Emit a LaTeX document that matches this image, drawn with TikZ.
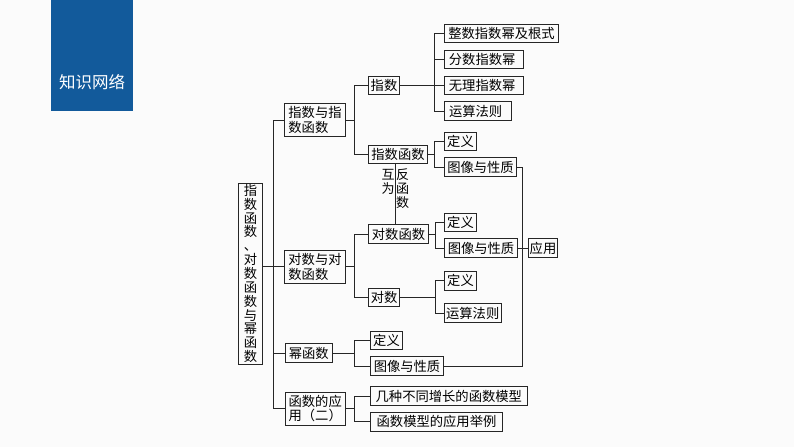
\documentclass[tikz,border=0pt]{standalone}
\usepackage{fontspec}
\setmainfont{Noto Sans CJK SC}
\tikzset{
  box/.style={draw=black!85, rectangle, inner sep=0pt, align=center, minimum height=18.5pt, line width=.9pt, font=\fontsize{13.3}{14.8}\selectfont},
  note/.style={inner sep=0pt, align=center, font=\fontsize{13}{14}\selectfont},
  wire/.style={draw=black!85, line width=.9pt},
}
\begin{document}
\begin{tikzpicture}[x=1pt, y=-1pt]
\useasboundingbox (0,0) rectangle (794,447);
\fill[black!1.5] (0,0) rectangle (794,447);
\node[rectangle, fill={rgb,255:red,18;green,90;blue,155}, minimum width=81.5pt, minimum height=111pt, inner sep=0pt] (kid30) at (92.2,55.5){};
\node[text=white, inner sep=0pt, font=\fontsize{16.5}{18}\selectfont] (kid31) at (92,82){知识网络};
\node[box, minimum width=24pt, minimum height=181pt, font=\fontsize{13.3}{13.85}\selectfont] (kid0) at (250.5,273.5){指\\数\\函\\数\\、\\对\\数\\函\\数\\与\\幂\\函\\数};
\node[box, minimum width=61pt, minimum height=33pt] (kid1) at (315,120){指数与指\\数函数\hspace*{13.3pt}};
\node[box, minimum width=31pt] (kid2) at (384,85.5){指数};
\node[box, minimum width=114.4pt] (kid3) at (501.5,33.3){整数指数幂及根式};
\node[box, minimum width=79pt] (kid4) at (483.8,59.5){分数指数幂\hspace*{3.3pt}};
\node[box, minimum width=79pt] (kid5) at (483.8,85.5){无理指数幂\hspace*{3.3pt}};
\node[box, minimum width=67pt] (kid6) at (477.8,111){运算法则\hspace*{4.4pt}};
\node[box, minimum width=59pt] (kid7) at (398,154.5){指数函数};
\node[box, minimum width=32.4pt] (kid8) at (460.5,141.3){定义};
\node[box, minimum width=72.4pt] (kid9) at (480.5,167){图像与性质};
\node[box, minimum width=61pt, minimum height=33pt] (kid10) at (315,266.7){对数与对\\数函数\hspace*{13.3pt}};
\node[box, minimum width=59.6pt] (kid11) at (398.5,234){对数函数};
\node[box, minimum width=32.4pt] (kid12) at (460.5,222.3){定义};
\node[box, minimum width=73.4pt] (kid13) at (481,248){图像与性质};
\node[box, minimum width=31pt] (kid14) at (384.2,297.2){对数};
\node[box, minimum width=32.4pt] (kid15) at (460.5,280.7){定义};
\node[box, minimum width=56.7pt, minimum height=19.5pt] (kid16) at (472.7,313){运算法则};
\node[box, minimum width=29.4pt] (kid17) at (543,248){应用};
\node[box, minimum width=46.5pt] (kid18) at (308.7,353){幂函数};
\node[box, minimum width=32.4pt] (kid19) at (386.5,340.2){定义};
\node[box, minimum width=73.4pt] (kid20) at (407,366){图像与性质};
\node[box, minimum width=59.5pt, minimum height=33pt] (kid21) at (315.2,408.5){函数的应\\用（二）};
\node[box, minimum width=157pt] (kid22) at (448.8,396){几种不同增长的函数模型};
\node[box, minimum width=132.4pt] (kid23) at (436.5,421.9){函数模型的应用举例};
\node[note] (kid24) at (388,182){互\\为};
\node[note] (kid25) at (402.5,189){反\\函\\数};
\coordinate (jun0) at (273.5,266.7);
\coordinate (jun1) at (354.5,120);
\coordinate (jun2) at (434.7,85.5);
\coordinate (jun3) at (434.7,154.5);
\coordinate (jun4) at (354.3,266.7);
\coordinate (jun5) at (435,234);
\coordinate (jun6) at (435,297.2);
\coordinate (jun7) at (522.3,248);
\coordinate (jun8) at (354.3,353);
\coordinate (jun9) at (354.3,408.5);
\coordinate (jun10) at (395.3,190);
\draw[wire](kid0.east |- kid10.west) -- (kid10.west);
\draw[wire](kid1.west) -| (jun0);
\draw[wire](kid18.west) -- (kid18.west -| jun0);
\draw[wire](kid21.west) -| (jun0);
\draw[wire](kid1.east) -- (jun1);
\draw[wire](kid2.west) -| (jun1);
\draw[wire](kid7.west) -| (jun1);
\draw[wire](kid2.east) -- (kid5.west);
\draw[wire](kid3.west) -| (jun2);
\draw[wire](kid4.west) -- (kid4.west -| jun2);
\draw[wire](kid6.west) -| (jun2);
\draw[wire](kid7.east) -- (jun3);
\draw[wire](kid8.west) -| (jun3);
\draw[wire](kid9.west) -| (jun3);
\draw[wire](jun10 |- kid7.south) -- (jun10 |- kid11.north);
\draw[wire](kid10.east) -- (jun4);
\draw[wire](kid11.west) -| (jun4);
\draw[wire](kid14.west) -| (jun4);
\draw[wire](kid11.east) -- (jun5);
\draw[wire](kid12.west) -| (jun5);
\draw[wire](kid13.west) -| (jun5);
\draw[wire](kid14.east) -- (jun6);
\draw[wire](kid15.west) -| (jun6);
\draw[wire](kid16.west) -| (jun6);
\draw[wire](kid13.east) -- (kid17.west);
\draw[wire](kid9.east) -| (jun7);
\draw[wire](kid20.east) -| (jun7);
\draw[wire](kid18.east) -- (jun8);
\draw[wire](kid19.west) -| (jun8);
\draw[wire](kid20.west) -| (jun8);
\draw[wire](kid21.east) -- (jun9);
\draw[wire](kid22.west) -| (jun9);
\draw[wire](kid23.west) -| (jun9);
\end{tikzpicture}
\end{document}
